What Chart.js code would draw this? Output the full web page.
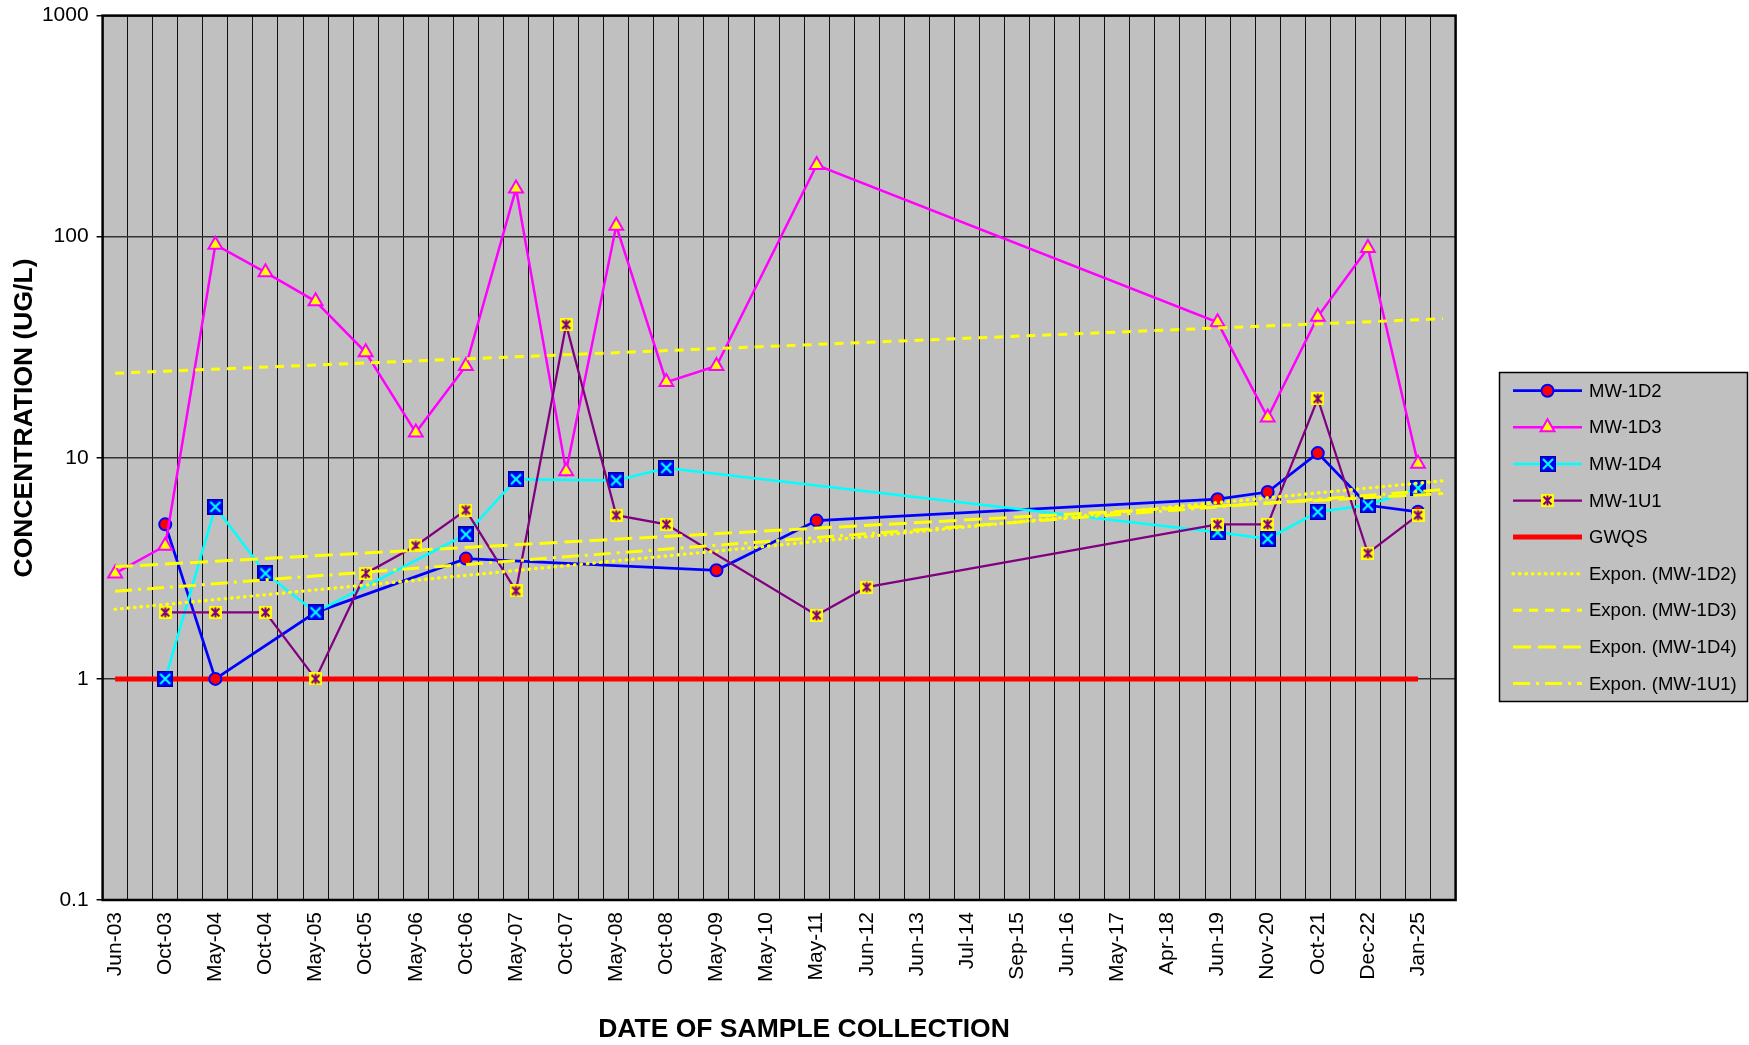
<!DOCTYPE html>
<html>
<head>
<meta charset="utf-8">
<title>Concentration by date of sample collection</title>
<script src="https://cdn.jsdelivr.net/npm/chart.js@4/dist/chart.umd.min.js"></script>
<style>
  html, body { margin: 0; padding: 0; background: #ffffff; overflow: hidden; }
  #wrap { width: 1749px; height: 1045px; position: relative; }
</style>
</head>
<body>
<div id="wrap"><canvas id="chart"></canvas></div>
<script>
// Sampling events shown on the category axis
const sampleDates = ['Jun-03', 'Oct-03', 'May-04', 'Oct-04', 'May-05', 'Oct-05', 'May-06', 'Oct-06',
  'May-07', 'Oct-07', 'May-08', 'Oct-08', 'May-09', 'May-10', 'May-11', 'Jun-12', 'Jun-13', 'Jul-14',
  'Sep-15', 'Jun-16', 'May-17', 'Apr-18', 'Jun-19', 'Nov-20', 'Oct-21', 'Dec-22', 'Jan-25'];

// Concentrations (ug/L) per well, one entry per sampling date (null = not sampled / not reported)
const mw1d2 = [null, 5.0, 1.0, null, 2.0, null, null, 3.5, null, null, null, null, 3.1, null, 5.2, null,
  null, null, null, null, null, null, 6.5, 7.0, 10.5, 6.1, 5.7];
const mw1d3 = [3.0, 4.0, 92, 69, 51, 30, 13, 26, 165, 8.7, 112, 22, 26, null, 211, null,
  null, null, null, null, null, null, 41, 15.2, 43.5, 89, 9.4];
const mw1d4 = [null, 1.0, 6.0, 3.0, 2.0, null, null, 4.5, 8.0, null, 7.9, 9.0, null, null, null, null,
  null, null, null, null, null, null, 4.6, 4.3, 5.7, 6.1, 7.3];
const mw1u1 = [null, 2.0, 2.0, 2.0, 1.0, 3.0, 4.0, 5.8, 2.5, 40, 5.5, 5.0, null, null, 1.94, 2.6,
  null, null, null, null, null, null, 5.0, 5.0, 18.5, 3.7, 5.5];
// Groundwater quality standard
const gwqs = [1, 1, 1, 1, 1, 1, 1, 1, 1, 1, 1, 1, 1, 1, 1, 1, 1, 1, 1, 1, 1, 1, 1, 1, 1, 1, 1];

const yTickValues = [0.1, 1, 10, 100, 1000];

// Each sampling date sits on every other slot of the category axis; the last slot is left empty.
const slotCount = sampleDates.length * 2;
const slotLabels = [];
for (let i = 0; i < slotCount; i++) slotLabels.push(i % 2 === 0 ? sampleDates[i / 2] : '');

function toSlots(values) {
  const out = new Array(slotCount).fill(null);
  values.forEach((v, i) => { out[i * 2] = v; });
  return out;
}

// Exponential least-squares trend (ln y against slot index), spanning the first to the last slot.
function expTrend(values) {
  const pts = [];
  values.forEach((v, i) => { if (v != null) pts.push([i * 2, Math.log(v)]); });
  const n = pts.length;
  const mx = pts.reduce((s, p) => s + p[0], 0) / n;
  const my = pts.reduce((s, p) => s + p[1], 0) / n;
  let sxy = 0, sxx = 0;
  pts.forEach(([x, y]) => { sxy += (x - mx) * (y - my); sxx += (x - mx) * (x - mx); });
  const b = sxy / sxx;
  const a = my - b * mx;
  const out = new Array(slotCount).fill(null);
  out[0] = Math.exp(a);
  out[slotCount - 1] = Math.exp(a + b * (slotCount - 1));
  return out;
}

// Marker images
function squareCrossMarker() {
  const s = 16;
  const c = document.createElement('canvas');
  c.width = s; c.height = s;
  const g = c.getContext('2d');
  g.fillStyle = '#0000FF';
  g.fillRect(0, 0, s, s);
  g.strokeStyle = '#00009A';
  g.lineWidth = 1;
  g.strokeRect(0.5, 0.5, s - 1, s - 1);
  g.strokeStyle = '#00FFFF';
  g.lineWidth = 2.2;
  g.beginPath();
  g.moveTo(3, 3); g.lineTo(s - 3, s - 3);
  g.moveTo(s - 3, 3); g.lineTo(3, s - 3);
  g.stroke();
  return c;
}
function squareStarMarker() {
  const s = 13;
  const c = document.createElement('canvas');
  c.width = s; c.height = s;
  const g = c.getContext('2d');
  g.fillStyle = '#FFFF00';
  g.fillRect(0, 0, s, s);
  g.strokeStyle = '#800080';
  g.lineWidth = 2;
  g.beginPath();
  g.moveTo(2.5, 2.5); g.lineTo(s - 2.5, s - 2.5);
  g.moveTo(s - 2.5, 2.5); g.lineTo(2.5, s - 2.5);
  g.moveTo(s / 2, 1.5); g.lineTo(s / 2, s - 1.5);
  g.stroke();
  return c;
}

const FONT = "'Liberation Sans', Arial, Helvetica, sans-serif";
Chart.defaults.font.family = FONT;
Chart.defaults.color = '#000000';

const datasets = [
  { label: 'MW-1D2', data: toSlots(mw1d2), borderColor: '#0000FF', borderWidth: 2.75,
    pointStyle: 'circle', pointRadius: 6, pointBackgroundColor: '#FF0000',
    pointBorderColor: '#0000FF', pointBorderWidth: 2, order: 8 },
  { label: 'MW-1D3', data: toSlots(mw1d3), borderColor: '#FF00FF', borderWidth: 2.5,
    pointStyle: 'triangle', pointRadius: 8, pointBackgroundColor: '#FFFF00',
    pointBorderColor: '#FF00FF', pointBorderWidth: 2, order: 7 },
  { label: 'MW-1D4', data: toSlots(mw1d4), borderColor: '#00FFFF', borderWidth: 2.5,
    pointStyle: squareCrossMarker(), pointRadius: 8, order: 6 },
  { label: 'MW-1U1', data: toSlots(mw1u1), borderColor: '#800080', borderWidth: 2.25,
    pointStyle: squareStarMarker(), pointRadius: 6.5, order: 5 },
  { label: 'GWQS', data: toSlots(gwqs), borderColor: '#FF0000', borderWidth: 5,
    pointRadius: 0, order: 9 },
  { label: 'Expon. (MW-1D2)', data: expTrend(mw1d2), borderColor: '#FFFF00', borderWidth: 3.4,
    borderDash: [0.5, 6], borderCapStyle: 'round', pointRadius: 0, order: 4 },
  { label: 'Expon. (MW-1D3)', data: expTrend(mw1d3), borderColor: '#FFFF00', borderWidth: 3,
    borderDash: [9, 7], pointRadius: 0, order: 3 },
  { label: 'Expon. (MW-1D4)', data: expTrend(mw1d4), borderColor: '#FFFF00', borderWidth: 3,
    borderDash: [18, 7], pointRadius: 0, order: 2 },
  { label: 'Expon. (MW-1U1)', data: expTrend(mw1u1), borderColor: '#FFFF00', borderWidth: 3,
    borderDash: [17, 6, 3, 6], pointRadius: 0, order: 1 }
];
datasets.forEach(d => { d.spanGaps = true; d.fill = false; d.tension = 0; d.pointHoverRadius = d.pointRadius; });

// Grey plot background, drawn before everything else
const plotBackground = {
  id: 'plotBackground',
  beforeDraw(chart) {
    const { ctx, chartArea: a } = chart;
    ctx.save();
    ctx.fillStyle = '#C0C0C0';
    ctx.fillRect(a.left, a.top, a.right - a.left, a.bottom - a.top);
    ctx.restore();
  }
};

// Black frame round the plot area, over the grid and under the series
const plotFrame = {
  id: 'plotFrame',
  beforeDatasetsDraw(chart) {
    const { ctx, chartArea: a } = chart;
    ctx.save();
    ctx.strokeStyle = '#000000';
    ctx.lineWidth = 2.5;
    ctx.strokeRect(a.left, a.top, a.right - a.left, a.bottom - a.top);
    ctx.restore();
  }
};

// Axis titles
const axisTitles = {
  id: 'axisTitles',
  afterDraw(chart) {
    const { ctx } = chart;
    ctx.save();
    ctx.fillStyle = '#000000';
    ctx.font = 'bold 26.5px ' + FONT;
    ctx.textAlign = 'center';
    ctx.textBaseline = 'middle';
    ctx.fillText('DATE OF SAMPLE COLLECTION', 804, 1030);
    ctx.translate(25, 418);
    ctx.rotate(-Math.PI / 2);
    ctx.fillText('CONCENTRATION (UG/L)', 0, 0);
    ctx.restore();
  }
};

function drawMarker(ctx, ds, x, y) {
  const style = ds.pointStyle;
  const r = ds.pointRadius || 0;
  if (!style || r === 0) return;
  if (style instanceof HTMLCanvasElement) {
    ctx.drawImage(style, Math.round(x - style.width / 2), Math.round(y - style.height / 2));
    return;
  }
  ctx.save();
  ctx.fillStyle = ds.pointBackgroundColor;
  ctx.strokeStyle = ds.pointBorderColor;
  ctx.lineWidth = ds.pointBorderWidth || 1;
  ctx.setLineDash([]);
  ctx.beginPath();
  if (style === 'circle') {
    ctx.arc(x, y, r, 0, Math.PI * 2);
  } else if (style === 'triangle') {
    let rad = 0;
    ctx.moveTo(x + Math.sin(rad) * r, y - Math.cos(rad) * r);
    rad += Math.PI * 2 / 3;
    ctx.lineTo(x + Math.sin(rad) * r, y - Math.cos(rad) * r);
    rad += Math.PI * 2 / 3;
    ctx.lineTo(x + Math.sin(rad) * r, y - Math.cos(rad) * r);
    ctx.closePath();
  }
  ctx.fill();
  ctx.stroke();
  ctx.restore();
}

// Boxed legend to the right of the plot
const boxedLegend = {
  id: 'boxedLegend',
  afterDraw(chart) {
    const { ctx } = chart;
    const box = { x: 1499.5, y: 372.5, w: 248, h: 329 };
    ctx.save();
    ctx.fillStyle = '#C0C0C0';
    ctx.fillRect(box.x, box.y, box.w, box.h);
    ctx.strokeStyle = '#000000';
    ctx.lineWidth = 1.5;
    ctx.strokeRect(box.x, box.y, box.w, box.h);
    const rowStart = 390.7, rowStep = 36.6;
    const lineX0 = 1513, lineX1 = 1582, markX = 1547.5, textX = 1589;
    chart.data.datasets.forEach((ds, i) => {
      const y = rowStart + i * rowStep;
      ctx.save();
      ctx.strokeStyle = ds.borderColor;
      ctx.lineWidth = ds.borderWidth;
      ctx.lineCap = ds.borderCapStyle || 'butt';
      ctx.setLineDash(ds.borderDash || []);
      ctx.beginPath();
      ctx.moveTo(lineX0, y);
      ctx.lineTo(lineX1, y);
      ctx.stroke();
      ctx.restore();
      drawMarker(ctx, ds, markX, y);
      ctx.fillStyle = '#000000';
      ctx.font = '18.5px ' + FONT;
      ctx.textAlign = 'left';
      ctx.textBaseline = 'middle';
      ctx.fillText(ds.label, textX, y + 1);
    });
    ctx.restore();
  }
};

new Chart(document.getElementById('chart'), {
  type: 'line',
  data: { labels: slotLabels, datasets },
  plugins: [plotBackground, plotFrame, axisTitles, boxedLegend],
  options: {
    responsive: true,
    maintainAspectRatio: false,
    devicePixelRatio: 1,
    animation: false,
    events: [],
    layout: { padding: { top: 15.6, right: 293.4, left: 0, bottom: 0 } },
    plugins: { legend: { display: false }, tooltip: { enabled: false } },
    scales: {
      x: {
        type: 'category',
        offset: true,
        grid: { offset: true, color: '#111111', lineWidth: 1, drawTicks: false },
        border: { display: false },
        ticks: { autoSkip: false, maxRotation: 90, minRotation: 90, padding: 12,
                 color: '#000000', font: { size: 21 } },
        afterFit(scale) { scale.height = 145; }
      },
      y: {
        type: 'logarithmic',
        min: 0.1,
        max: 1000,
        afterBuildTicks(scale) { scale.ticks = yTickValues.map(v => ({ value: v })); },
        grid: { color: '#333333', lineWidth: 1.5, tickLength: 6, tickColor: '#000000', tickWidth: 1.5 },
        border: { display: false },
        ticks: { autoSkip: false, padding: 8, color: '#000000', font: { size: 21 },
                 callback: (v) => String(v) },
        afterFit(scale) {
          scale.width = 102.6;
          scale.paddingTop = 10;
          scale.paddingBottom = 10;
        }
      }
    }
  }
});
</script>
</body>
</html>
